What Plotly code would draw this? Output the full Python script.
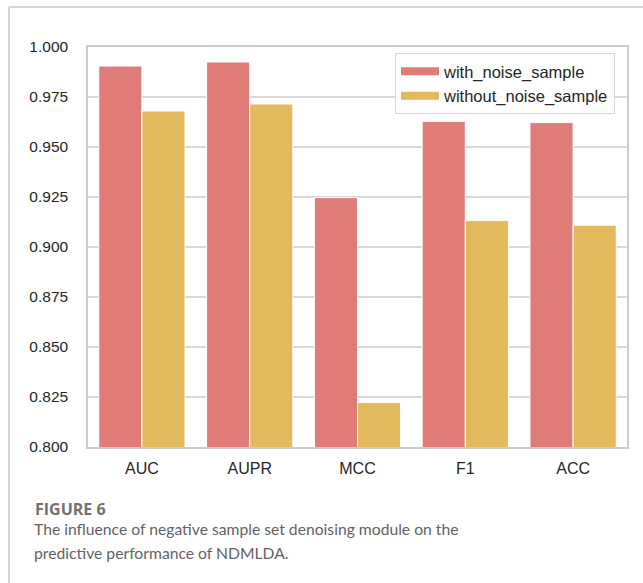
import plotly.graph_objects as go

categories = ["AUC", "AUPR", "MCC", "F1", "ACC"]
with_noise = [0.9905, 0.9925, 0.9247, 0.9628, 0.9622]
without_noise = [0.968, 0.9715, 0.8222, 0.9132, 0.9109]
series_names = ["with_noise_sample", "without_noise_sample"]
colors = ["#E07C78", "#E2B95C"]
y_ticks = [0.800, 0.825, 0.850, 0.875, 0.900, 0.925, 0.950, 0.975, 1.000]
caption_label = "FIGURE 6"
caption_lines = ["The influence of negative sample set denoising module on the",
                 "predictive performance of NDMLDA."]

W, H = 643, 583
L, R, T, B = 88, 627, 47, 447

def px_x(px):
    return (px - L) / (R - L)

def px_y(py):
    return (B - py) / (B - T)

fig = go.Figure()
for name, vals, col in zip(series_names, [with_noise, without_noise], colors):
    fig.add_trace(go.Bar(x=categories, y=vals, name=name, marker=dict(color=col, line=dict(color="white", width=1)),
                         showlegend=False))
    fig.add_trace(go.Scatter(x=[None], y=[None], mode="lines", name=name,
                             line=dict(color=col, width=8), showlegend=True))

fig.update_layout(
    width=W, height=H,
    margin=dict(l=L, r=W - R, t=T, b=H - B, autoexpand=False),
    paper_bgcolor="white", plot_bgcolor="white",
    barmode="group", bargap=0.2, bargroupgap=0,
    font=dict(family="Liberation Sans, Arial, sans-serif", size=15.5, color="#262626"),
    legend=dict(x=px_x(395), y=px_y(53), xanchor="left", yanchor="top",
                bordercolor="#d5d5d5", borderwidth=1, bgcolor="rgba(255,255,255,0.8)",
                font=dict(size=16.5, color="#262626"), tracegroupgap=0, itemwidth=38),
    xaxis=dict(showgrid=False, ticks="", showline=True, linecolor="#cccccc", linewidth=1.5,
               mirror=True, tickfont=dict(size=16), ticklabelstandoff=6),
    yaxis=dict(range=[0.8, 1.0], tickvals=y_ticks, tickformat=".3f", showgrid=True,
               gridcolor="#d9d9d9", gridwidth=1.5, showline=True, linecolor="#cccccc",
               linewidth=1.5, mirror=True, ticks="", zeroline=False, tickfont=dict(size=15.5),
               ticklabelstandoff=15),
)

# outer frame lines (left and top)
fig.add_shape(type="line", xref="paper", yref="paper", x0=px_x(9), x1=px_x(9),
              y0=px_y(7), y1=px_y(583), line=dict(color="#c8c8c8", width=1.5), layer="above")
fig.add_shape(type="line", xref="paper", yref="paper", x0=px_x(9), x1=px_x(643),
              y0=px_y(7), y1=px_y(7), line=dict(color="#c8c8c8", width=1.5), layer="above")

fig.add_annotation(text="<b>" + caption_label + "</b>", xref="paper", yref="paper",
                   x=px_x(33), y=px_y(509), xanchor="left", yanchor="middle", showarrow=False,
                   font=dict(family="Open Sans, Noto Sans, sans-serif", size=16, color="#707070"))
for i, line in enumerate(caption_lines):
    fig.add_annotation(text=line, xref="paper", yref="paper",
                       x=px_x(32), y=px_y(529 + 24 * i), xanchor="left", yanchor="middle",
                       showarrow=False,
                       font=dict(family="Lato, Open Sans, sans-serif", size=15.7, color="#636363"))

fig.write_html("out.html", config={"displayModeBar": False},
               post_script="document.body.style.margin='0';document.body.style.overflow='hidden';")
